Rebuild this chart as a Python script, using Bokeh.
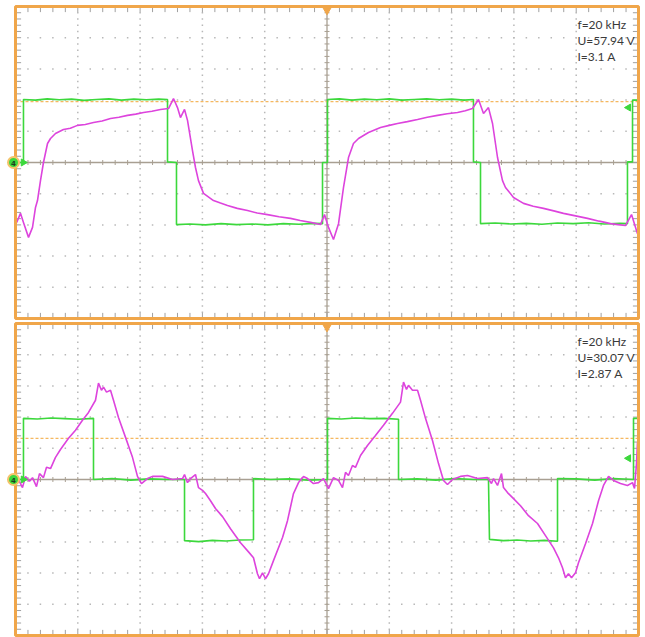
import numpy as np
from bokeh.plotting import figure
from bokeh.layouts import column
from bokeh.models import Range1d
from bokeh.core.properties import value
from bokeh.embed import file_html
from bokeh.resources import INLINE

# ---------------- data (time in microseconds, 10 us/div; amplitude in divisions) -------------
# top screen: voltage (green, ch4) and current (magenta)
top_u_t = [0, 1.28, 1.28, 3.2, 5.1, 7.0, 9.0, 11.0, 13.0, 15.0, 17.0, 19.0, 21.0, 23.0, 24.40,
           24.40, 25.84, 25.84, 28.0, 30.5, 33.0, 35.5, 38.0, 40.5, 43.0, 45.5, 48.0, 49.28,
           49.28, 50.08, 50.08, 52.0, 54.0, 56.0, 58.0, 60.0, 62.0, 64.0, 66.0, 68.0, 70.0, 72.0, 73.51,
           73.51, 74.64, 74.64, 77.0, 79.5, 82.0, 84.5, 87.0, 89.5, 92.0, 94.5, 97.0, 98.23,
           98.23, 99.04, 99.04, 100]
top_u_y = [0, 0, 2.02, 2.00, 2.04, 2.01, 2.03, 1.99, 2.02, 2.04, 2.00, 2.03, 2.01, 2.03, 2.02,
           0.02, 0.0, -1.99, -1.97, -2.00, -1.96, -1.99, -1.97, -2.00, -1.96, -1.98, -1.95, -1.96,
           0.0, 0.0, 2.02, 2.04, 2.00, 2.03, 2.01, 2.04, 2.00, 2.02, 2.04, 2.01, 2.03, 2.00, 2.02,
           0.02, 0.0, -1.96, -1.94, -1.97, -1.95, -1.98, -1.94, -1.96, -1.93, -1.97, -1.95, -1.96,
           0.02, 0.02, 2.00, 2.00]

top_i_t = [0.0, 0.32, 0.80, 1.28, 2.09, 2.73, 3.21, 3.53, 4.01, 4.49,
           5.14, 5.62, 6.42, 7.70, 8.8, 9.95, 11.2, 12.52, 13.9, 15.25,
           16.6, 17.98, 19.3, 20.55, 21.9, 23.27, 24.56, 25.36, 26.00, 26.48,
           27.13, 27.61, 28.41, 28.89, 29.37, 30.18, 31.78, 32.9, 34.03, 35.6,
           37.24, 38.8, 40.45, 42.3, 44.14, 45.7, 47.35, 48.96, 49.60, 50.24,
           51.04, 51.85, 52.65, 53.45, 54.25, 55.06, 56.66, 58.59, 60.0, 61.32,
           62.9, 64.53, 66.1, 67.74, 69.3, 70.95, 72.2, 73.35, 74.32, 75.12,
           75.92, 76.57, 77.37, 78.17, 78.65, 79.94, 81.54, 83.1, 84.75, 86.4,
           87.96, 89.9, 91.81, 93.7, 95.51, 96.7, 97.91, 98.88, 99.84]
top_i_y = [-1.99, -1.86, -1.63, -1.92, -2.40, -2.08, -1.44, -1.22, -0.58, 0.0,
           0.61, 0.77, 0.93, 1.06, 1.10, 1.19, 1.22, 1.28, 1.33, 1.41,
           1.45, 1.51, 1.55, 1.60, 1.64, 1.70, 1.73, 2.05, 1.76, 1.44,
           1.70, 1.35, 0.38, -0.16, -0.58, -0.99, -1.22, -1.30, -1.38, -1.47,
           -1.54, -1.62, -1.67, -1.74, -1.79, -1.86, -1.92, -1.99, -1.67, -2.08,
           -2.47, -1.96, -0.80, 0.16, 0.61, 0.77, 0.96, 1.12, 1.19, 1.25,
           1.31, 1.38, 1.45, 1.51, 1.56, 1.60, 1.66, 1.73, 2.02, 1.57,
           1.76, 1.25, 0.16, -0.58, -0.80, -1.12, -1.31, -1.40, -1.47, -1.55,
           -1.63, -1.71, -1.79, -1.88, -1.96, -1.99, -2.02, -1.67, -2.28]

# bottom screen
bot_u_t = [0, 1.28, 1.28, 3.5, 5.7, 7.9, 10.1, 12.52, 12.52, 15.5,
           18.5, 21.5, 24.5, 27.13, 27.13, 29.4, 31.6, 33.8, 36.0, 38.20,
           38.20, 41.0, 44.0, 47.0, 50.08, 50.08, 52.3, 54.6, 56.9, 59.2,
           61.48, 61.48, 64.5, 67.5, 70.5, 73.5, 75.92, 76.08, 78.3, 80.5,
           82.7, 84.9, 87.00, 87.00, 90.0, 93.0, 96.0, 99.20, 99.20, 100]
bot_u_y = [0, 0, 1.96, 1.94, 1.97, 1.95, 1.93, 1.96, 0.0, 0.03,
           -0.02, 0.02, 0.0, 0.0, -1.96, -1.99, -1.95, -1.97, -1.94, -1.93,
           0.03, 0.0, 0.02, -0.02, 0.0, 1.96, 1.94, 1.97, 1.95, 1.96,
           1.93, 0.0, 0.02, -0.02, 0.03, 0.0, 0.0, -1.92, -1.96, -1.94,
           -1.97, -1.95, -1.98, 0.03, 0.02, -0.02, 0.03, 0.0, 1.96, 1.96]

bot_i_t = [0.00, 0.48, 1.12, 1.61, 2.25, 2.73, 3.37, 3.85, 4.49, 4.98,
           5.62, 6.42, 7.22, 8.51, 9.63, 10.75, 11.72, 12.84, 13.32, 13.80,
           14.13, 14.61, 15.25, 15.73, 16.53, 17.66, 18.78, 19.58, 20.22, 21.19,
           21.99, 23.60, 25.20, 26.81, 27.13, 27.61, 28.09, 28.89, 29.37, 30.02,
           30.50, 31.30, 32.10, 33.23, 34.51, 36.12, 37.40, 38.20, 38.84, 39.17,
           39.65, 40.13, 40.61, 41.41, 42.86, 43.66, 44.62, 45.43, 46.23, 46.87,
           47.83, 48.64, 49.44, 50.24, 51.04, 51.85, 52.49, 52.97, 53.45, 54.09,
           54.57, 55.38, 56.50, 57.78, 59.07, 60.51, 61.80, 62.28, 62.76, 63.08,
           63.72, 64.53, 65.01, 65.81, 66.93, 67.90, 68.70, 69.34, 70.14, 71.43,
           72.55, 74.16, 75.76, 76.40, 76.73, 77.37, 78.01, 78.33, 78.97, 79.78,
           81.06, 82.34, 83.79, 85.07, 86.36, 87.16, 87.80, 88.28, 88.76, 89.25,
           89.89, 90.37, 91.49, 92.62, 93.58, 94.38, 95.19, 95.99, 97.11, 98.23,
           99.04, 99.36, 99.68, 99.84]
bot_i_y = [-0.06, 0.00, -0.26, 0.10, -0.06, 0.06, -0.23, 0.19, 0.06, 0.39,
           0.35, 0.71, 0.96, 1.32, 1.58, 1.90, 2.15, 2.54, 3.09, 2.86,
           2.96, 2.80, 2.86, 2.54, 1.99, 1.35, 0.71, 0.10, -0.13, 0.03,
           0.10, 0.10, 0.00, 0.03, 0.16, -0.10, 0.03, 0.16, -0.26, -0.35,
           -0.45, -0.68, -0.93, -1.19, -1.58, -2.03, -2.32, -2.51, -3.02, -3.18,
           -2.99, -3.18, -3.02, -2.60, -1.86, -1.32, -0.45, -0.10, 0.10, 0.03,
           -0.13, -0.10, 0.03, -0.29, 0.06, -0.03, -0.26, 0.23, 0.13, 0.45,
           0.39, 0.77, 1.09, 1.41, 1.74, 2.12, 2.48, 3.12, 2.89, 3.02,
           2.86, 2.86, 2.54, 1.96, 1.25, 0.51, -0.03, -0.16, 0.00, 0.10,
           0.13, 0.03, 0.06, -0.13, 0.03, -0.19, 0.19, -0.26, -0.42, -0.58,
           -0.84, -1.16, -1.41, -1.80, -2.19, -2.51, -2.83, -3.15, -3.02, -3.15,
           -2.99, -2.67, -2.06, -1.41, -0.68, -0.19, 0.10, -0.03, -0.13, -0.19,
           -0.10, -0.29, 0.51, 1.19]

# trigger level (dashed orange) and channel-4 level arrow (right side), in divisions
trigger_levels = [1.95, 1.32]
arrow_levels = [1.76, 0.68]

# readouts
top_texts = ["f=20 kHz", "U=57.94 V", "I=3.1 A"]
bot_texts = ["f=20 kHz", "U=30.07 V", "I=2.87 A"]
text_rows = [4.42, 3.91, 3.40]

# ---------------- styling ----------------
ORANGE = "#f0a64a"
GREEN = "#3cd83c"
MAGENTA = "#dd44dd"
GRID = "#b8b8b8"
AXIS = "#a89f92"
TICK = "#a0a0a0"

W = 645
PX_T = 6.23      # px per microsecond
PX_Y = 31.2      # px per division
LEFT_PAD, RIGHT_PAD = 15, 7


def scope(height, pad_top, pad_bot, u_t, u_y, i_t, i_y, trig, arrow, texts):
    p = figure(width=W, height=height,
               x_range=Range1d(-LEFT_PAD / PX_T, 100 + RIGHT_PAD / PX_T),
               y_range=Range1d(-5 - pad_bot / PX_Y, 5 + pad_top / PX_Y),
               output_backend="svg", toolbar_location=None,
               x_axis_location=None, y_axis_location=None,
               min_border=0)
    p.grid.visible = False
    p.background_fill_color = "white"
    p.border_fill_color = "white"
    p.outline_line_color = None

    minor_t = np.arange(0, 100.001, 2.0)
    minor_y = np.arange(-5, 5.001, 0.2)
    major_t = [10, 20, 30, 40, 60, 70, 80, 90]
    major_y = [-4, -3, -2, -1, 1, 2, 3, 4]
    n_t, n_y = len(minor_t), len(minor_y)

    # dotted graticule
    dx, dy = [], []
    for mt in major_t:
        for yy in minor_y[1:-1]:
            dx.append(mt); dy.append(yy)
    for my in major_y:
        for tt in minor_t[1:-1]:
            dx.append(tt); dy.append(my)
    p.scatter(dx, dy, marker="square", size=1.5, fill_color=GRID, line_color=None)

    # center cross with minor ticks
    p.segment(x0=[50], x1=[50], y0=[-5], y1=[5], line_color=AXIS, line_width=1.3)
    p.segment(x0=[0], x1=[100], y0=[0], y1=[0], line_color=AXIS, line_width=1.3)
    p.segment(x0=[50 - 0.4] * n_y, x1=[50 + 0.4] * n_y, y0=minor_y, y1=minor_y,
              line_color=AXIS, line_width=1)
    p.segment(x0=minor_t, x1=minor_t, y0=[-0.08] * n_t, y1=[0.08] * n_t,
              line_color=AXIS, line_width=1)

    # frame ticks (inside)
    p.segment(x0=minor_t, x1=minor_t, y0=[5] * n_t, y1=[4.82] * n_t, line_color=TICK, line_width=1)
    p.segment(x0=minor_t, x1=minor_t, y0=[-5] * n_t, y1=[-4.82] * n_t, line_color=TICK, line_width=1)
    p.segment(x0=[0] * n_y, x1=[0.9] * n_y, y0=minor_y, y1=minor_y, line_color=TICK, line_width=1)
    p.segment(x0=[100] * n_y, x1=[99.1] * n_y, y0=minor_y, y1=minor_y, line_color=TICK, line_width=1)

    # trigger level
    p.segment(x0=[0], x1=[100], y0=[trig], y1=[trig], line_color="#f5b860", line_width=1.2,
              line_dash="3 2")

    # traces
    p.line(u_t, u_y, line_color=GREEN, line_width=1.6)
    p.line(i_t, i_y, line_color=MAGENTA, line_width=1.6)

    # orange screen frame
    p.quad(left=[0], right=[100], bottom=[-5], top=[5], fill_color=None,
           line_color=ORANGE, line_width=3)

    # markers
    p.scatter([50], [4.9], marker="inverted_triangle", size=9, fill_color=ORANGE, line_color=ORANGE)
    p.scatter([1.25], [0], marker="triangle", angle=-np.pi / 2, size=7, fill_color=GREEN, line_color=GREEN)
    p.scatter([98.4], [arrow], marker="triangle", angle=np.pi / 2, size=7, fill_color=GREEN, line_color=GREEN)
    p.scatter([-0.32], [0], marker="circle", size=11, fill_color=GREEN, line_color="#f3c46a", line_width=2)
    p.text(x=[-0.32], y=[0], text=["4"], text_font=value("DejaVu Sans"), text_font_size="7px",
           text_font_style="bold", text_align="center", text_baseline="middle", text_color="#1f3f1f")

    p.text(x=[90.2] * len(texts), y=text_rows, text=texts, text_font=value("Lato"),
           text_font_size="12px", text_baseline="middle", text_align="left", text_color="#3a3a3a")
    return p


p1 = scope(320, 6, 2, top_u_t, top_u_y, top_i_t, top_i_y, trigger_levels[0], arrow_levels[0], top_texts)
p2 = scope(317, 3, 2, bot_u_t, bot_u_y, bot_i_t, bot_i_y, trigger_levels[1], arrow_levels[1], bot_texts)

layout = column(p1, p2)
open("out.html", "w").write(file_html(layout, INLINE))
